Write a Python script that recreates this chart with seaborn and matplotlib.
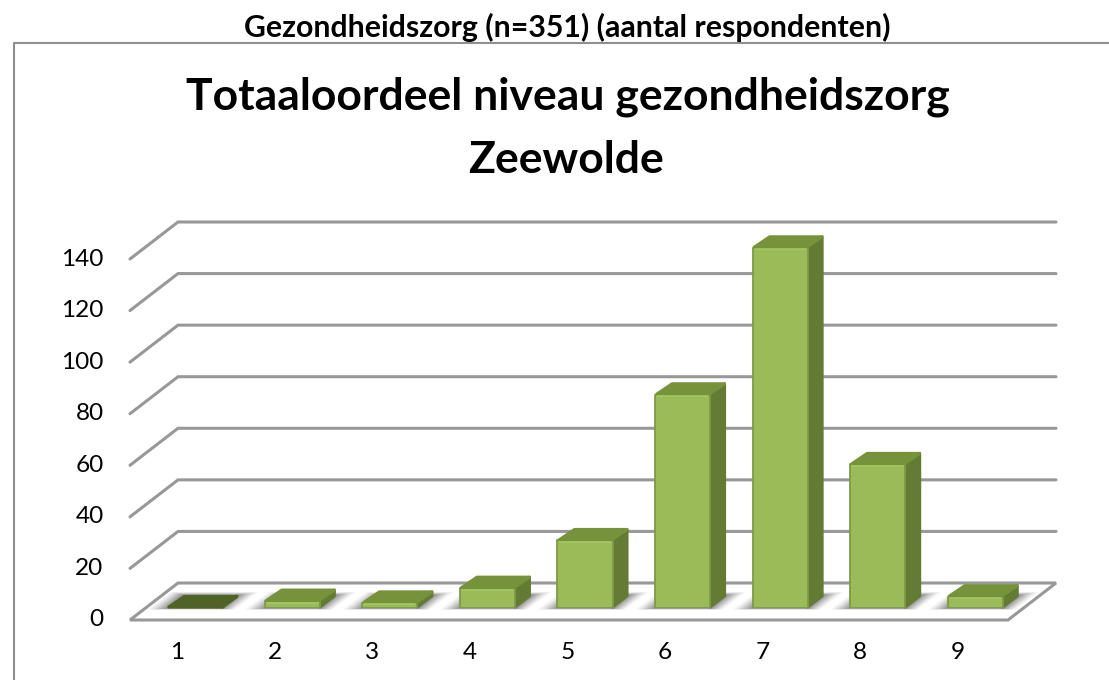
import matplotlib
matplotlib.use("Agg")
import matplotlib.pyplot as plt
from matplotlib.patches import Polygon
from matplotlib.transforms import IdentityTransform, ScaledTranslation
import seaborn as sns
import pandas as pd

scores = ["1", "2", "3", "4", "5", "6", "7", "8", "9"]
respondents = [0, 2.5, 1.8, 7.5, 26, 82.5, 139.5, 55.5, 4.2]
y_ticks = [0, 20, 40, 60, 80, 100, 120, 140]
heading = "Gezondheidszorg (n=351) (aantal respondenten)"
chart_title = "Totaaloordeel niveau gezondheidszorg\nZeewolde"

W, H = 1109, 680
FONT = "Lato"
GRID = "#989898"
FRONT, EDGE, SIDE, TOP, ZERO = "#9BBB59", "#7F9A48", "#637B33", "#76933C", "#4F6228"
DX, DY = 48, 37      # wall depth, px
BX, BY = 16, 12.5    # bar depth, px

sns.set_theme(style="white")
plt.rcParams["font.family"] = [FONT, "DejaVu Sans"]
fig = plt.figure(figsize=(W / 100, H / 100), dpi=100, facecolor="white")


def axes_px(left, right, bottom, top, **kw):
    return fig.add_axes([left / W, 1 - bottom / H, (right - left) / W, (bottom - top) / H], **kw)


pix = IdentityTransform()

# outer frame
fig.add_artist(plt.Line2D([13.5 / W, 13.5 / W, 1109 / W], [0, 1 - 43 / H, 1 - 43 / H],
                          color="#8f8f8f", lw=1.5, transform=fig.transFigure))
fig.text(567 / W, 1 - 27 / H, heading, ha="center", va="center", fontsize=21.8, fontweight="bold", color="black")
title_lines = chart_title.split("\n")
fig.text(568 / W, 1 - 97 / H, title_lines[0], ha="center", va="center",
         fontsize=32, fontweight="bold", color="black")
fig.text(566 / W, 1 - 160 / H, title_lines[1], ha="center", va="center",
         fontsize=32, fontweight="bold", color="black")

# wall / axis plane
ax = axes_px(130, 1008, 620, 259)
ax.set_xlim(-0.5, 8.5)
ax.set_ylim(0, 140)
ax.patch.set_alpha(0)
for s in ax.spines.values():
    s.set_visible(False)
ax.set_yticks(y_ticks)
ax.set_xticks(range(len(scores)))
ax.set_xticklabels(scores)
ax.tick_params(axis="both", length=0, labelsize=17.6, labelcolor="black")
ax.tick_params(axis="y", pad=19)
ax.tick_params(axis="x", pad=15.5)
shift_up = ScaledTranslation(0, 2 / 100, fig.dpi_scale_trans)
shift_left = ScaledTranslation(-1.5 / 100, 0, fig.dpi_scale_trans)
for lab in ax.get_yticklabels():
    lab.set_transform(lab.get_transform() + shift_up)
for lab in ax.get_xticklabels():
    lab.set_transform(lab.get_transform() + shift_left)

fig.canvas.draw()
for v in y_ticks:
    x0, y0 = ax.transData.transform((-0.5, v))
    x1, _ = ax.transData.transform((8.5, v))
    if v == 0:
        floor = [(x0, y0), (x0 + DX, y0 + DY), (x1 + DX, y0 + DY), (x1, y0)]
        ax.add_patch(Polygon(floor, closed=True, transform=pix, facecolor="white", edgecolor=GRID,
                             lw=2.2, joinstyle="miter", clip_on=False, zorder=1))
    else:
        ax.plot([x0, x0 + DX, x1 + DX], [y0, y0 + DY, y0 + DY], transform=pix, color=GRID, lw=2.2,
                solid_joinstyle="miter", clip_on=False, zorder=1)

# bar plane
ax_bar = axes_px(130 + BX, 1008 + BX, 620 - BY, 259 - BY)
ax_bar.patch.set_alpha(0)
data = pd.DataFrame({"score": scores, "respondents": respondents})
sns.barplot(data=data, x="score", y="respondents", ax=ax_bar, color=FRONT, saturation=1, width=0.564,
            edgecolor=EDGE, linewidth=1.3, zorder=5)
ax_bar.set_xlim(-0.5, 8.5)
ax_bar.set_ylim(0, 140)
ax_bar.axis("off")

fig.canvas.draw()
for bar, h in zip(list(ax_bar.patches), respondents):
    bar.set_joinstyle("round")
    (xl, yb) = ax_bar.transData.transform((bar.get_x(), 0))
    (xr, yt) = ax_bar.transData.transform((bar.get_x() + bar.get_width(), h))
    if h == 0:
        bar.set_visible(False)
    # soft floor shadow: stacked translucent bands that widen and fade
    for grow, a in zip([20, 17, 14, 11, 8, 5, 2], [0.05, 0.07, 0.09, 0.11, 0.13, 0.15, 0.17]):
        up = BY + grow * 0.15
        down = 1 + grow * 0.06
        shadow = Polygon([(xl - grow, yb - down), (xl + BX - grow * .6, yb + up), (xr + BX + grow, yb + up),
                          (xr + grow * .6, yb - down)], closed=True, transform=pix, facecolor=(0.25, 0.25, 0.25, a),
                         edgecolor="none", clip_on=False, zorder=2.5)
        ax_bar.add_patch(shadow)
    # side and top faces, slightly inset with a wide round-joined edge for soft corners
    ax_bar.add_patch(Polygon([(xr, yb + 0.5), (xr + BX - 1.5, yb + BY - 1), (xr + BX - 1.5, yt + BY - 1.5), (xr, yt)],
                             closed=True, transform=pix, facecolor=SIDE, edgecolor=SIDE, lw=2.2,
                             joinstyle="round", clip_on=False, zorder=4))
    top_col = ZERO if h == 0 else TOP
    ax_bar.add_patch(Polygon([(xl + 1.5, yt + 0.5), (xl + BX + 1, yt + BY - 1.5), (xr + BX - 1.5, yt + BY - 1.5), (xr - 1, yt + 0.5)],
                             closed=True, transform=pix, facecolor=top_col, edgecolor=top_col, lw=2.2,
                             joinstyle="round", clip_on=False, zorder=6))
    if h > 0:
        ax_bar.plot([xl + 2, xr - 2], [yt - 1.5, yt - 1.5], transform=pix, color="#A6C662", lw=1.2, clip_on=False, zorder=7)

fig.savefig("out.png", dpi=100, facecolor="white")
